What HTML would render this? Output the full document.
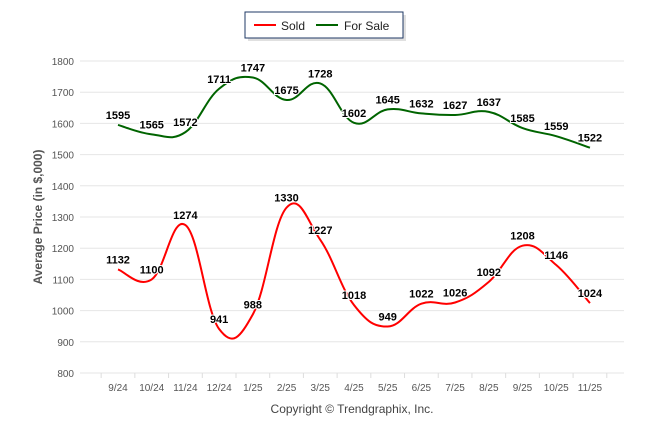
<!DOCTYPE html>
<html><head><meta charset="utf-8"><style>
body{margin:0;background:#fff;}
svg{font-family:"Liberation Sans",Arial,sans-serif;}
</style></head><body>
<svg width="646" height="434">
<g>
<rect x="248" y="15" width="158" height="26" fill="#ccc" opacity="0.6"/>
<rect x="245" y="12" width="158" height="26" fill="#fff" stroke="#1f3864" stroke-width="1"/>
<g><line x1="254" y1="25" x2="276" y2="25" stroke="#f00" stroke-width="2"/><text x="281" y="30" font-size="12" fill="#222">Sold</text></g>
<g><line x1="316" y1="25" x2="338" y2="25" stroke="#006400" stroke-width="2"/><text x="344" y="30" font-size="12" fill="#222">For Sale</text></g>
</g>
<g id="grid"></g><g id="axes"></g><g id="series"></g><g id="labels"></g>
<text transform="translate(42,217) rotate(-90)" text-anchor="middle" font-size="12" font-weight="bold" fill="#555">Average Price (in $,000)</text>
<text x="352" y="413" text-anchor="middle" font-size="12" fill="#444">Copyright © Trendgraphix, Inc.</text>
</svg>
<script>
const categories=["9/24","10/24","11/24","12/24","1/25","2/25","3/25","4/25","5/25","6/25","7/25","8/25","9/25","10/25","11/25"];
const soldValues=[1132,1100,1274,941,988,1330,1227,1018,949,1022,1026,1092,1208,1146,1024];
const forSaleValues=[1595,1565,1572,1711,1747,1675,1728,1602,1645,1632,1627,1637,1585,1559,1522];
const yTicks=[800,900,1000,1100,1200,1300,1400,1500,1600,1700,1800];
const NS="http://www.w3.org/2000/svg";
const X0=118,DX=33.71,Y800=373,Y1800=61;
const xs=i=>X0+i*DX;
const ys=v=>Y800-(v-800)*(Y800-Y1800)/1000;
function mk(t,a,p){const e=document.createElementNS(NS,t);for(const k in a)e.setAttribute(k,a[k]);p.appendChild(e);return e;}
const grid=document.getElementById('grid'),axes=document.getElementById('axes');
yTicks.forEach(v=>{
 const l=mk('line',{x1:80,x2:624,y1:ys(v),y2:ys(v),stroke:'#e6e6e6','stroke-width':1},grid);
 
 
 const t=mk('text',{x:74,y:ys(v)+4,'text-anchor':'end','font-size':10,fill:'#555'},axes);
 t.textContent=v;
 
 
});
for(let i=0;i<=categories.length;i++){
 const x=xs(i)-DX/2;
 const tk=mk('line',{x1:x,x2:x,y1:Y800,y2:Y800+5,stroke:'#ddd'},axes);
 
 
}
categories.forEach((c,i)=>{
 const t=mk('text',{x:xs(i),y:Y800+18,'text-anchor':'middle','font-size':10,fill:'#555'},axes);
 t.textContent=c;
 
 
});
function spline(vals){
 const p=vals.map((v,i)=>[xs(i),ys(v)]);
 const n=p.length;let d=`M${p[0][0]},${p[0][1]}`;const k=1/5;
 for(let i=0;i<n-1;i++){
  const p0=p[Math.max(0,i-1)],p1=p[i],p2=p[i+1],p3=p[Math.min(n-1,i+2)];
  const c1=[p1[0]+(p2[0]-p0[0])*k,p1[1]+(p2[1]-p0[1])*k];
  const c2=[p2[0]-(p3[0]-p1[0])*k,p2[1]-(p3[1]-p1[1])*k];
  d+=` C${c1[0]},${c1[1]} ${c2[0]},${c2[1]} ${p2[0]},${p2[1]}`;
 }
 return d;
}
const ser=document.getElementById('series'),lab=document.getElementById('labels');
[[forSaleValues,'#006400','for-sale'],[soldValues,'#f00','sold']].forEach(([vals,col,nm])=>{
 const path=mk('path',{d:spline(vals),fill:'none',stroke:col,'stroke-width':2},ser);
 
 
 vals.forEach((v,i)=>{
  const t=mk('text',{x:xs(i),y:ys(v)-6,'text-anchor':'middle','font-size':11,'font-weight':'bold',fill:'#000',stroke:'#fff','stroke-width':2,'paint-order':'stroke'},lab);
  t.textContent=v;
  
  
 });
});
</script>
</body></html>
